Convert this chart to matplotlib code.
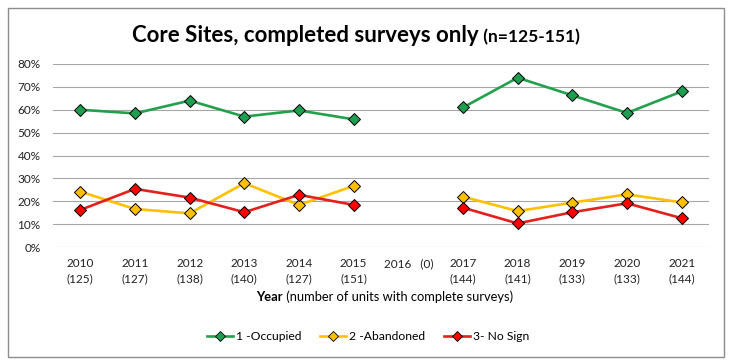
import numpy as np
import matplotlib
matplotlib.use('Agg')
import matplotlib.pyplot as plt
from matplotlib.patches import Rectangle
from matplotlib.lines import Line2D

plt.rcParams['font.family'] = ['Lato', 'DejaVu Sans']

# ── Data ──────────────────────────────────────────────────────────────────────
years    = ['2010', '2011', '2012', '2013', '2014', '2015', '2016',
            '2017', '2018', '2019', '2020', '2021']
n_units  = ['125', '127', '138', '140', '127', '151', '0',
            '144', '141', '133', '133', '144']
occupied  = [60.0, 58.4, 64.0, 57.0, 59.7, 55.8, np.nan,
             61.0, 74.0, 66.3, 58.6, 68.0]
abandoned = [24.2, 16.6, 14.7, 27.9, 18.4, 26.7, np.nan,
             22.0, 15.7, 19.4, 23.0, 19.5]
no_sign   = [16.2, 25.4, 21.6, 15.2, 22.8, 18.4, np.nan,
             17.2, 10.3, 15.2, 19.1, 12.6]

series = [
    ('1 -Occupied',  occupied,  '#23A04B', '#1E9E50'),
    ('2 -Abandoned', abandoned, '#FFC000', '#FFC000'),
    ('3- No Sign',   no_sign,   '#E3201C', '#FF0000'),
]

tick_labels = [f'{y}   ({n})' if n == '0' else f'{y}\n({n})'
               for y, n in zip(years, n_units)]

# ── Figure ────────────────────────────────────────────────────────────────────
W, H = 733, 363
fig = plt.figure(figsize=(W / 100, H / 100), dpi=100)
ax = fig.add_axes([53 / W, 1 - 247 / H, (709 - 53) / W, (247 - 64) / H])

x = np.arange(len(years))
for name, vals, lc, mc in series:
    ax.plot(x, np.array(vals) / 100, color=lc, lw=1.9, marker='D', ms=6.4,
            mfc=mc, mec='black', mew=0.7, zorder=3)

ax.set_xlim(-0.5, len(years) - 0.5)
ax.set_ylim(0, 0.8)
ax.set_yticks(np.arange(0, 0.81, 0.1))
ax.set_yticklabels([f'{int(round(v * 100))}%' for v in np.arange(0, 0.81, 0.1)])
ax.set_xticks(x)
ax.set_xticklabels(tick_labels, linespacing=1.45, va='top')
ax.tick_params(axis='both', length=0, labelsize=8.5, colors='#222222')
ax.tick_params(axis='y', pad=9)
ax.tick_params(axis='x', pad=8)
ax.grid(axis='y', color='#A6A6A6', lw=0.8, zorder=0)
for s in ax.spines.values():
    s.set_visible(False)

# title in two parts
t = fig.text(479 / W, 1 - 36 / H, 'Core Sites, completed surveys only',
             ha='right', va='center', fontsize=16, fontweight='bold')
ax.annotate(' (n=125-151)', xy=(1, 0.08), xycoords=t, va='bottom', ha='left',
            fontsize=12.5, fontweight='bold')

# x axis label: bold "Year" + normal rest
xl = fig.text(283 / W, 1 - 297 / H, 'Year', ha='right', va='center',
              fontsize=9.3, fontweight='bold')
ax.annotate(' (number of units with complete surveys)', xy=(1, 0), xycoords=xl,
            va='bottom', ha='left', fontsize=9.3)

# legend
handles = [Line2D([0], [0], color=lc, lw=1.9, marker='D', ms=5, mfc=mc,
                  mec='black', mew=0.6) for _, _, lc, mc in series]
fig.legend(handles, [s[0] for s in series], loc='center',
           bbox_to_anchor=(368 / W, 1 - 337 / H), ncol=3, frameon=False,
           fontsize=8.7, handlelength=2.2, handletextpad=0.25, columnspacing=1.5)

# outer chart border
fig.patches.append(Rectangle((8 / W, 1 - 357 / H), (724 - 8) / W, (357 - 8) / H,
                             transform=fig.transFigure, fill=False,
                             edgecolor='#8C8C8C', lw=1.0))

fig.savefig('out.png', dpi=100)
